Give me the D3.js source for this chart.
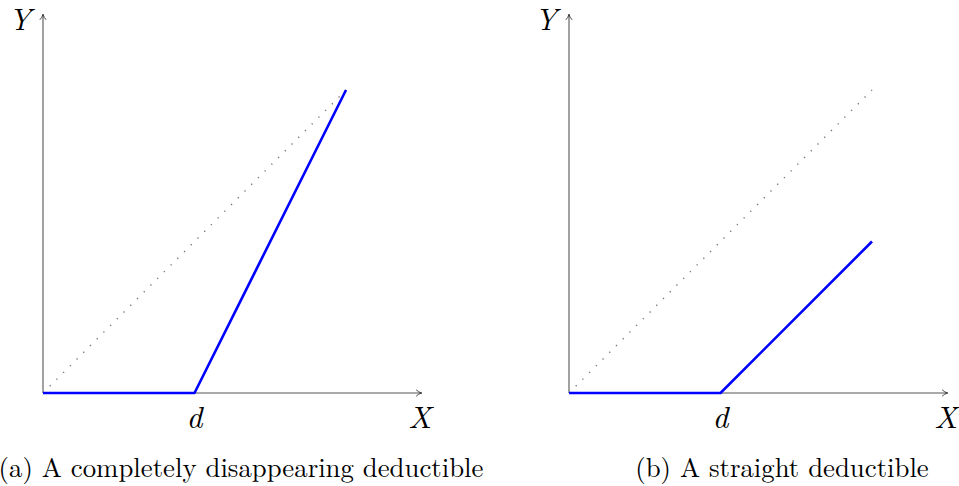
<!DOCTYPE html>
<html><head><meta charset="utf-8">
<script src="https://cdn.jsdelivr.net/npm/d3@7"></script>
<style>body{margin:0;background:#fff}svg{display:block}</style>
</head><body>
<script>
// Data (units of d)
const panels = ["a", "b"];
const captions = ["(a) A completely disappearing deductible", "(b) A straight deductible"];
const payoffX = [0, 1, 2];
const payoffA = [0, 0, 2];
const payoffB = [0, 0, 1];
const diagX = [0, 2];
const diagY = [0, 2];
const axisMax = 2.5;
const tickLabel = "d";

const W = 959, H = 486;
const svg = d3.select("body").append("svg").attr("width", W).attr("height", H);
const defs = svg.append("defs");
defs.append("marker").attr("id","arr").attr("viewBox","0 0 10 10").attr("refX",9).attr("refY",5)
  .attr("markerWidth",8).attr("markerHeight",8).attr("markerUnits","userSpaceOnUse").attr("orient","auto")
  .append("path").attr("d","M2,1 Q5,4 9,5 Q5,6 2,9").attr("fill","none").attr("stroke","#333").attr("stroke-width",1.1);

const origins = [{x:43, y:393}, {x:569, y:393}];
const unit = 151.5;
const series = [payoffA, payoffB];
const capX = [241, 782];
const serif = "'Latin Modern Roman','DejaVu Serif','Liberation Serif',serif";

panels.forEach((p, i) => {
  const o = origins[i];
  const x = d3.scaleLinear().domain([0, axisMax]).range([o.x, o.x + axisMax*unit]);
  const y = d3.scaleLinear().domain([0, axisMax]).range([o.y, o.y - axisMax*unit]);
  const g = svg.append("g");
  g.append("line").attr("x1", x(0)).attr("y1", y(0)).attr("x2", x(axisMax)).attr("y2", y(0))
    .attr("stroke","#555").attr("stroke-width",1.1).attr("marker-end","url(#arr)");
  g.append("line").attr("x1", x(0)).attr("y1", y(0)).attr("x2", x(0)).attr("y2", y(axisMax))
    .attr("stroke","#555").attr("stroke-width",1.1).attr("marker-end","url(#arr)");
  const line = d3.line().x(d => x(d[0])).y(d => y(d[1]));
  g.append("path").attr("d", line(d3.zip(diagX, diagY))).attr("fill","none")
    .attr("stroke","#777").attr("stroke-width",1.4).attr("stroke-dasharray","1.3 8.2");
  g.append("path").attr("d", line(d3.zip(payoffX, series[i]))).attr("fill","none")
    .attr("stroke","#0000ff").attr("stroke-width",2.6).attr("stroke-linejoin","round");
  g.append("text").attr("x", x(1)).attr("y", y(0) + 35).attr("text-anchor","middle")
    .attr("font-family", serif).attr("font-style","italic").attr("font-size",31).text(tickLabel);
  g.append("text").attr("x", x(axisMax) - 2).attr("y", y(0) + 35).attr("text-anchor","middle")
    .attr("font-family", serif).attr("font-style","italic").attr("font-size",31).text("X");
  g.append("text").attr("x", x(0) - 23).attr("y", y(axisMax) + 16).attr("text-anchor","middle")
    .attr("font-family", serif).attr("font-style","italic").attr("font-size",30).text("Y");
  g.append("text").attr("x", capX[i]).attr("y", 477).attr("text-anchor","middle")
    .attr("font-family", serif).attr("font-size",26.8).text(captions[i]);
});
</script>
</body></html>
